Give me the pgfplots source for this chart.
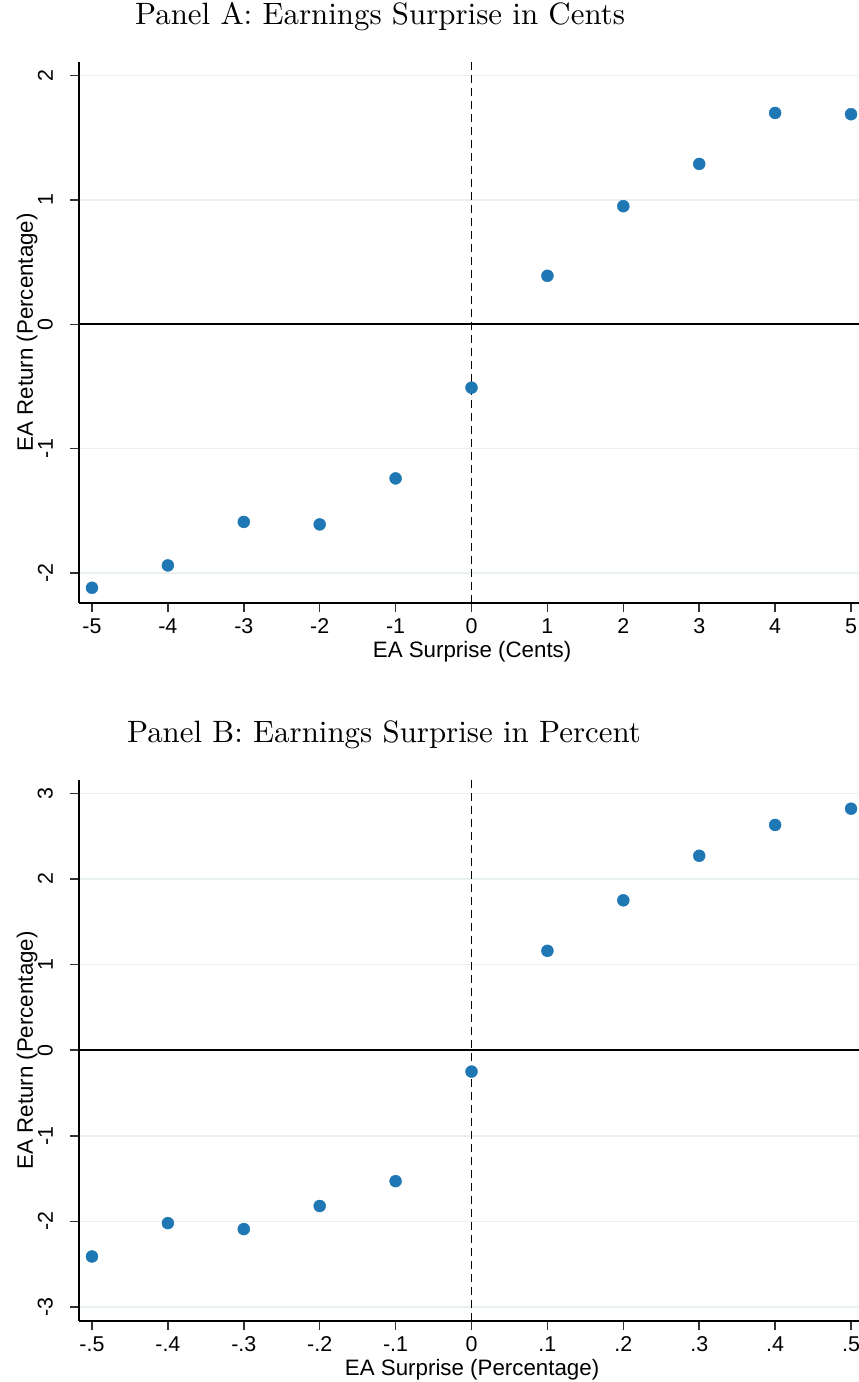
\documentclass[border=0pt]{standalone}
\usepackage{fontspec}
\usepackage{pgfplots}
\pgfplotsset{compat=1.18}
\newfontfamily\lsans{Liberation Sans}
\newfontfamily\titlefont{lmroman10-regular}[Extension=.otf]

\definecolor{dotblue}{RGB}{31,119,180}
\definecolor{gridc}{RGB}{232,240,242}

\pgfplotsset{
    panel/.style={
        scale only axis,
        width=780bp, height=540.7bp,
        anchor=south west,
        clip=false,
        axis x line*=bottom,
        axis y line*=left,
        axis line style={line width=1.6bp, black},
        tick align=outside,
        major tick length=9bp,
        tick style={line width=1.5bp, black!80},
        ymajorgrids,
        grid style={line width=1.5bp, gridc},
        /pgf/number format/assume math mode=true,
        ticklabel style={font=\lsans\fontsize{21.5}{26}\selectfont},
        xticklabel style={anchor=north, inner xsep=0pt, inner ysep=7bp},
        yticklabel style={rotate=90, anchor=south, inner xsep=0pt, inner ysep=17bp},
        label style={font=\lsans\fontsize{22.4}{27}\selectfont},
        xlabel style={at={(axis description cs:0.504,-0.1017)}, anchor=base, inner sep=0pt},
        ylabel style={at={(axis description cs:-0.059,0.5)}, anchor=base, inner sep=0pt},
        title style={font=\titlefont\fontsize{31}{36}\selectfont, anchor=base, inner sep=0pt},
    },
    dots/.style={only marks, mark=*, mark size=6bp, color=dotblue, mark options={draw=none, fill=dotblue}},
    zeroline/.style={black, line width=1.8bp},
    vline/.style={black, line width=1.8bp, dash pattern=on 8bp off 5bp},
}

\begin{document}
\begin{tikzpicture}
    \path[use as bounding box] (0,0) rectangle (859bp,-1382bp);

    % Panel A
    \begin{axis}[
            panel,
            at={(79bp,-602.7bp)},
            xmin=-5.171, xmax=5.105,
            ymin=-2.24, ymax=2.11,
            xtick={-5,-4,-3,-2,-1,0,1,2,3,4,5},
            xticklabels={-5,-4,-3,-2,-1,0,1,2,3,4,5},
            ytick={-2,-1,0,1,2},
            yticklabels={-2,-1,0,1,2},
            xlabel={EA Surprise (Cents)},
            ylabel={EA Return (Percentage)},
            title={Panel A: Earnings Surprise in Cents},
            title style={at={(axis description cs:0.386,1.0592)}},
        ]
        \addplot[zeroline] coordinates {(-5.171,0) (5.105,0)};
        \addplot[vline] coordinates {(0,-2.24) (0,2.11)};
        \addplot[dots] coordinates {
            (-5,-2.12) (-4,-1.94) (-3,-1.59) (-2,-1.61) (-1,-1.24)
            (0,-0.51) (1,0.39) (2,0.95) (3,1.29) (4,1.70) (5,1.69)
        };
    \end{axis}

    % Panel B
    \begin{axis}[
            panel,
            at={(79bp,-1320.7bp)},
            xmin=-0.5171, xmax=0.5105,
            ymin=-3.16, ymax=3.155,
            xtick={-0.5,-0.4,-0.3,-0.2,-0.1,0,0.1,0.2,0.3,0.4,0.5},
            xticklabels={-.5,-.4,-.3,-.2,-.1,0,.1,.2,.3,.4,.5},
            ytick={-3,-2,-1,0,1,2,3},
            yticklabels={-3,-2,-1,0,1,2,3},
            xlabel={EA Surprise (Percentage)},
            ylabel={EA Return (Percentage)},
            title={Panel B: Earnings Surprise in Percent},
            title style={at={(axis description cs:0.391,1.0592)}},
        ]
        \addplot[zeroline] coordinates {(-0.5171,0) (0.5105,0)};
        \addplot[vline] coordinates {(0,-3.16) (0,3.155)};
        \addplot[dots] coordinates {
            (-0.5,-2.41) (-0.4,-2.02) (-0.3,-2.09) (-0.2,-1.82) (-0.1,-1.53)
            (0,-0.25) (0.1,1.16) (0.2,1.75) (0.3,2.27) (0.4,2.63) (0.5,2.82)
        };
    \end{axis}
\end{tikzpicture}
\end{document}
